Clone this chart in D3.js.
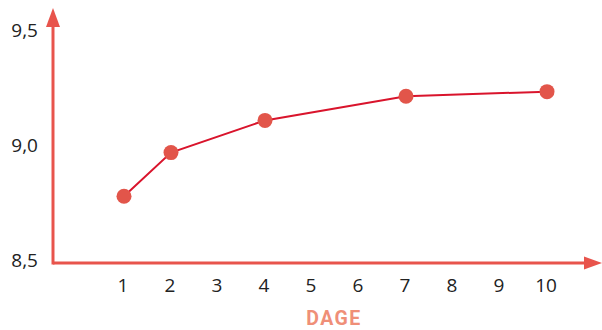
<!DOCTYPE html>
<html><head><meta charset="utf-8">
<script src="https://cdn.jsdelivr.net/npm/d3@7"></script>
<style>body{margin:0;background:#fff}svg{display:block}</style>
</head><body>
<script>
const days = [1, 2, 4, 7, 10];
const values = [8.79, 8.98, 9.12, 9.225, 9.245];
const xTicks = [1,2,3,4,5,6,7,8,9,10];
const yTicks = [8.5, 9.0, 9.5];
const xTitle = "DAGE";

const W = 602, H = 330;
const svg = d3.select("body").append("svg").attr("width", W).attr("height", H);
const x = d3.scaleLinear().domain([1, 10]).range([124, 547]);
const y = d3.scaleLinear().domain([8.5, 9.5]).range([263, 33]);
const axisColor = "#e8544c";
const ox = 53, oy = 263;

// axes
svg.append("line").attr("x1", ox).attr("x2", ox).attr("y1", oy + 1.5).attr("y2", 24)
  .attr("stroke", axisColor).attr("stroke-width", 3);
svg.append("line").attr("x1", ox).attr("x2", 588).attr("y1", oy).attr("y2", oy)
  .attr("stroke", axisColor).attr("stroke-width", 3);
svg.append("path").attr("d", `M${ox},8 L${ox-7},27 L${ox+7},27 Z`).attr("fill", axisColor);
svg.append("path").attr("d", `M602,${oy} L584,${oy-6.5} L584,${oy+6.5} Z`).attr("fill", axisColor);

const font = "'Open Sans', sans-serif";
svg.append("g").selectAll("text").data(yTicks).join("text")
  .attr("x", 38).attr("y", d => y(d) - 3).attr("dy", "0.35em")
  .attr("text-anchor", "end").attr("font-family", font).attr("font-size", 19)
  .attr("fill", "#222").text(d => d3.format(".1f")(d).replace(".", ","));
svg.append("g").selectAll("text").data(xTicks).join("text")
  .attr("x", d => x(d) - 1).attr("y", 292)
  .attr("text-anchor", "middle").attr("font-family", font).attr("font-size", 19)
  .attr("fill", "#222").text(d => d);
svg.append("text").attr("x", 334).attr("y", 325).attr("text-anchor", "middle")
  .attr("font-family", "Roboto, sans-serif").attr("font-weight", "bold").attr("font-size", 19.5)
  .attr("letter-spacing", 1.5)
  .attr("fill", "#ef8f78").text(xTitle);

const pts = days.map((d, i) => [d, values[i]]);
svg.append("path").datum(pts)
  .attr("d", d3.line().x(d => x(d[0])).y(d => y(d[1])))
  .attr("fill", "none").attr("stroke", "#d9142c").attr("stroke-width", 2);
svg.append("g").selectAll("circle").data(pts).join("circle")
  .attr("cx", d => x(d[0])).attr("cy", d => y(d[1])).attr("r", 7.5)
  .attr("fill", "#e2554a");
</script>
</body></html>
